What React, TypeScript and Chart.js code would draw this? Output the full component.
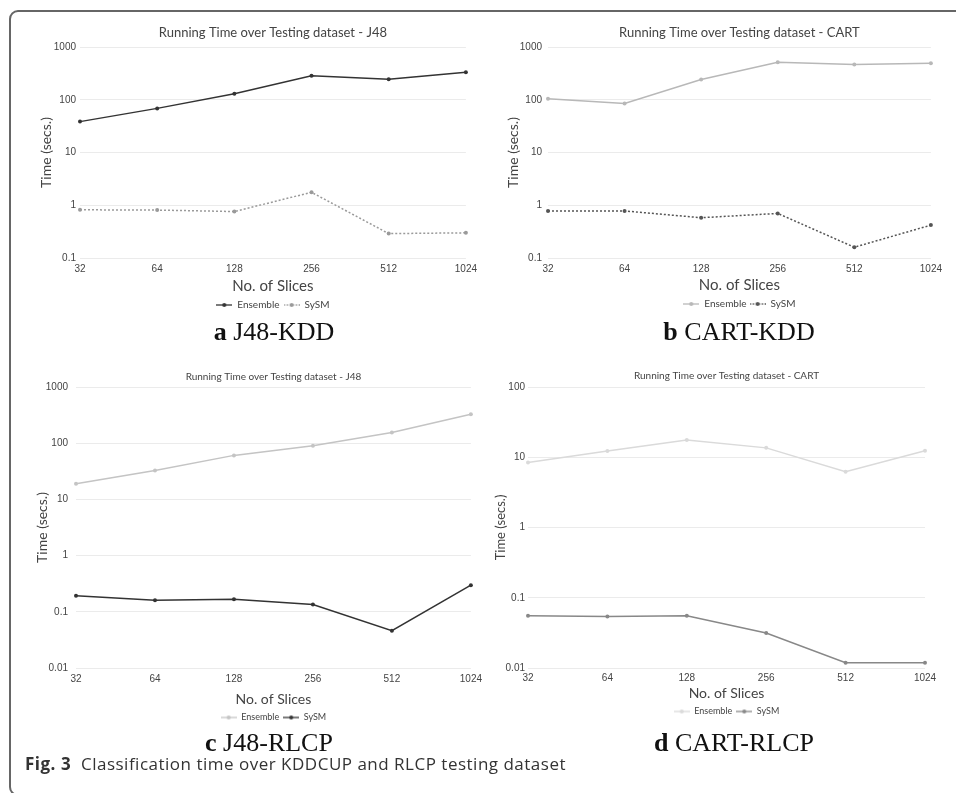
import React, { useEffect, useRef } from 'react';
import { Chart, registerables } from 'chart.js';

Chart.register(...registerables);

// ---------- data ----------
const slices = ['32', '64', '128', '256', '512', '1024'];
const seriesNames = ['Ensemble', 'SySM'];

const j48KddEnsemble = [38.5, 68.6, 130, 284, 245, 333];
const j48KddSysm = [0.82, 0.81, 0.76, 1.76, 0.29, 0.3];

const cartKddEnsemble = [104, 85, 242, 514, 465, 492];
const cartKddSysm = [0.78, 0.78, 0.58, 0.7, 0.16, 0.42];

const j48RlcpEnsemble = [19, 32.8, 60.7, 90, 155, 328];
const j48RlcpSysm = [0.193, 0.161, 0.168, 0.135, 0.046, 0.298];

const cartRlcpEnsemble = [8.4, 12.3, 17.6, 13.6, 6.2, 12.4];
const cartRlcpSysm = [0.0555, 0.0543, 0.0555, 0.0315, 0.0119, 0.0119];

const yTicksKdd = [0.1, 1, 10, 100, 1000];
const yTicksJ48Rlcp = [0.01, 0.1, 1, 10, 100, 1000];
const yTicksCartRlcp = [0.01, 0.1, 1, 10, 100];

const titleJ48 = 'Running Time over Testing dataset - J48';
const titleCart = 'Running Time over Testing dataset - CART';
const xAxisTitle = 'No. of Slices';
const yAxisTitle = 'Time (secs.)';

// ---------- styling ----------
const LABEL_FONT = 'Lato, "Open Sans", sans-serif';
const TICK_FONT = '"Liberation Sans", Arial, sans-serif';
const TEXT_COLOR = '#444';

type Series = { data: number[]; color: string; dashed: boolean };
type Spec = {
  canvas: { left: number; top: number; width: number; height: number };
  title: string;
  titleSize: number;
  titlePadTop: number;
  titlePadBottom: number;
  yTicks: number[];
  yWidth: number;
  yTitleSize: number;
  yTitlePad: number;
  yTickPad: number;
  xTickPad: number;
  xHeight: number;
  xTitleSize: number;
  xTitlePadBottom: number;
  legendSize: number;
  legendPad: number;
  padRight: number;
  series: Series[];
};

const specs: Spec[] = [
  {
    canvas: { left: 30, top: 18, width: 452, height: 302 },
    title: titleJ48, titleSize: 13, titlePadTop: 7.2, titlePadBottom: 6.2,
    yTicks: yTicksKdd, yWidth: 50, yTitleSize: 14, yTitlePad: 7.6, yTickPad: 4,
    xTickPad: 5, xHeight: 38, xTitleSize: 15, xTitlePadBottom: 1,
    legendSize: 10, legendPad: 4, padRight: 16,
    series: [
      { data: j48KddEnsemble, color: '#333333', dashed: false },
      { data: j48KddSysm, color: '#9a9a9a', dashed: true },
    ],
  },
  {
    canvas: { left: 499, top: 18, width: 448, height: 301 },
    title: titleCart, titleSize: 13, titlePadTop: 7.2, titlePadBottom: 6.2,
    yTicks: yTicksKdd, yWidth: 49, yTitleSize: 14, yTitlePad: 5.6, yTickPad: 6,
    xTickPad: 5, xHeight: 38, xTitleSize: 15, xTitlePadBottom: 2,
    legendSize: 10, legendPad: 3, padRight: 16,
    series: [
      { data: cartKddEnsemble, color: '#b8b8b8', dashed: false },
      { data: cartKddSysm, color: '#555555', dashed: true },
    ],
  },
  {
    canvas: { left: 28, top: 366, width: 459, height: 366 },
    title: titleJ48, titleSize: 10, titlePadTop: 5, titlePadBottom: 4,
    yTicks: yTicksJ48Rlcp, yWidth: 48, yTitleSize: 14, yTitlePad: 5.6, yTickPad: 8,
    xTickPad: 5, xHeight: 41, xTitleSize: 14, xTitlePadBottom: 1.6,
    legendSize: 9, legendPad: 4, padRight: 16,
    series: [
      { data: j48RlcpEnsemble, color: '#c4c4c4', dashed: false },
      { data: j48RlcpSysm, color: '#333333', dashed: false },
    ],
  },
  {
    canvas: { left: 487, top: 366, width: 454, height: 360 },
    title: titleCart, titleSize: 10, titlePadTop: 4, titlePadBottom: 5,
    yTicks: yTicksCartRlcp, yWidth: 41, yTitleSize: 13, yTitlePad: 6.2, yTickPad: 3,
    xTickPad: 4, xHeight: 35, xTitleSize: 14, xTitlePadBottom: 1.6,
    legendSize: 9, legendPad: 4, padRight: 16,
    series: [
      { data: cartRlcpEnsemble, color: '#dadada', dashed: false },
      { data: cartRlcpSysm, color: '#888888', dashed: false },
    ],
  },
];

function makeLegendIcon(color: string, dashed: boolean): HTMLCanvasElement {
  const c = document.createElement('canvas');
  c.width = 16;
  c.height = 6;
  const ctx = c.getContext('2d')!;
  ctx.strokeStyle = color;
  ctx.lineWidth = 1.3;
  if (dashed) ctx.setLineDash([1.5, 1.5]);
  ctx.beginPath();
  ctx.moveTo(0, 3);
  ctx.lineTo(16, 3);
  ctx.stroke();
  ctx.setLineDash([]);
  ctx.fillStyle = color;
  ctx.beginPath();
  ctx.arc(8, 3, 2, 0, Math.PI * 2);
  ctx.fill();
  return c;
}

function LogChart({ spec }: { spec: Spec }) {
  const ref = useRef<HTMLCanvasElement | null>(null);
  useEffect(() => {
    if (!ref.current) return;
    const icons = spec.series.map((s) => makeLegendIcon(s.color, s.dashed));
    const yMin = spec.yTicks[0];
    const yMax = spec.yTicks[spec.yTicks.length - 1];
    const chart = new Chart(ref.current, {
      type: 'line',
      data: {
        labels: slices,
        datasets: spec.series.map((s, i) => ({
          label: seriesNames[i],
          data: s.data,
          borderColor: s.color,
          backgroundColor: s.color,
          pointBackgroundColor: s.color,
          pointBorderColor: s.color,
          borderWidth: 1.5,
          borderDash: s.dashed ? [2, 2] : [],
          pointRadius: 2,
          pointHoverRadius: 2,
          pointBorderWidth: 0,
          tension: 0,
          fill: false,
        })),
      },
      options: {
        responsive: false,
        animation: false,
        events: [],
        layout: { padding: { left: 0, right: spec.padRight, top: 0, bottom: 0 } },
        scales: {
          x: {
            type: 'category',
            offset: false,
            grid: { display: false, drawTicks: false },
            border: { display: false },
            ticks: {
              padding: spec.xTickPad,
              autoSkip: false,
              maxRotation: 0,
              color: TEXT_COLOR,
              font: { family: TICK_FONT, size: 10 },
            },
            title: {
              display: true,
              text: xAxisTitle,
              color: TEXT_COLOR,
              font: { family: LABEL_FONT, size: spec.xTitleSize },
              padding: { top: 0, bottom: spec.xTitlePadBottom },
            },
            afterFit: (s: any) => {
              s.height = spec.xHeight;
            },
          },
          y: {
            type: 'logarithmic',
            min: yMin,
            max: yMax,
            grid: { color: '#ebebeb', lineWidth: 1, drawTicks: false },
            border: { display: false },
            ticks: {
              padding: spec.yTickPad,
              color: TEXT_COLOR,
              font: { family: TICK_FONT, size: 10 },
              callback: (v: any) => String(v),
            },
            afterBuildTicks: (s: any) => {
              s.ticks = spec.yTicks.map((v) => ({ value: v }));
            },
            title: {
              display: true,
              text: yAxisTitle,
              color: TEXT_COLOR,
              font: { family: LABEL_FONT, size: spec.yTitleSize },
              padding: { top: spec.yTitlePad, bottom: 0 },
            },
            afterFit: (s: any) => {
              s.width = spec.yWidth;
            },
          },
        },
        plugins: {
          title: {
            display: true,
            text: spec.title,
            fullSize: false,
            color: TEXT_COLOR,
            font: { family: LABEL_FONT, size: spec.titleSize, weight: 'normal' },
            padding: { top: spec.titlePadTop, bottom: spec.titlePadBottom },
          },
          legend: {
            position: 'bottom',
            fullSize: false,
            labels: {
              usePointStyle: true,
              pointStyleWidth: 16,
              padding: spec.legendPad,
              color: TEXT_COLOR,
              font: { family: LABEL_FONT, size: spec.legendSize },
              generateLabels: (c: any) => {
                const items = (Chart.defaults.plugins.legend.labels as any).generateLabels(c);
                return items.map((it: any, i: number) => ({ ...it, pointStyle: icons[i] }));
              },
            },
          },
          tooltip: { enabled: false },
        },
      } as any,
    });
    return () => chart.destroy();
  }, [spec]);
  const { left, top, width, height } = spec.canvas;
  return (
    <canvas
      ref={ref}
      width={width}
      height={height}
      style={{ position: 'absolute', left, top, width, height, display: 'block' }}
    />
  );
}

const captionStyle: React.CSSProperties = {
  position: 'absolute',
  fontFamily: '"Liberation Serif", "Times New Roman", serif',
  fontSize: 26,
  lineHeight: 1,
  color: '#111',
  whiteSpace: 'nowrap',
  transform: 'translateX(-50%)',
};

function SubCaption({ letter, text, cx, top }: { letter: string; text: string; cx: number; top: number }) {
  return (
    <div style={{ ...captionStyle, left: cx, top }}>
      <b>{letter}</b> {text}
    </div>
  );
}

export default function App() {
  return (
    <div
      style={{
        position: 'absolute',
        left: 0,
        top: 0,
        width: 956,
        height: 793,
        overflow: 'hidden',
        background: '#fff',
      }}
    >
      <div
        style={{
          position: 'absolute',
          left: 9,
          top: 10,
          width: 1000,
          height: 786,
          border: '2px solid #666',
          borderRadius: 9,
          boxSizing: 'border-box',
        }}
      />
      {specs.map((s, i) => (
        <LogChart key={i} spec={s} />
      ))}
      <SubCaption letter="a" text="J48-KDD" cx={274} top={319} />
      <SubCaption letter="b" text="CART-KDD" cx={739} top={319} />
      <SubCaption letter="c" text="J48-RLCP" cx={269} top={730} />
      <SubCaption letter="d" text="CART-RLCP" cx={734} top={730} />
      <div
        style={{
          position: 'absolute',
          left: 25,
          top: 755,
          fontFamily: '"Open Sans", sans-serif',
          fontSize: 17,
          letterSpacing: 0.5,
          lineHeight: 1,
          color: '#333',
          whiteSpace: 'nowrap',
        }}
      >
        <b>Fig. 3</b>
        {'\u00a0\u00a0'}Classification time over KDDCUP and RLCP testing dataset
      </div>
    </div>
  );
}
